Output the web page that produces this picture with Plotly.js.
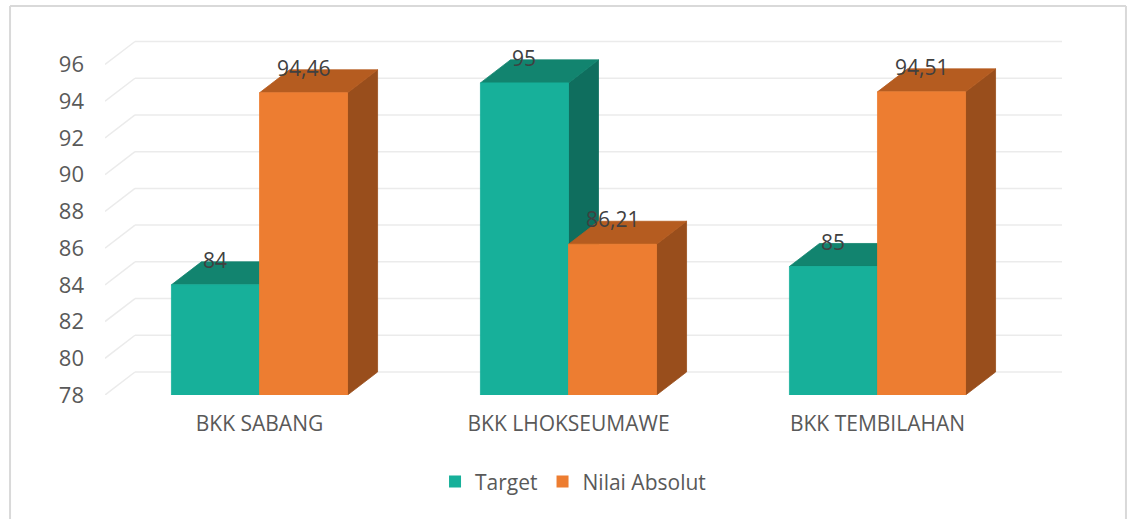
<!DOCTYPE html>
<html>
<head>
<meta charset="utf-8">
<script src="https://cdn.plot.ly/plotly-3.0.1.min.js"></script>
<style>html,body{margin:0;padding:0;background:#fff;}#chart{width:1128px;height:519px;}</style>
</head>
<body>
<div id="chart"></div>
<script>
// ---- data ----
const categories = ['BKK SABANG', 'BKK LHOKSEUMAWE', 'BKK TEMBILAHAN'];
const seriesNames = ['Target', 'Nilai Absolut'];
const target = [84, 95, 85];
const nilaiAbsolut = [94.46, 86.21, 94.51];
const targetLabels = ['84', '95', '85'];
const nilaiLabels = ['94,46', '86,21', '94,51'];
const yTickVals = [78, 80, 82, 84, 86, 88, 90, 92, 94, 96];

// ---- styling / 3D geometry ----
const FONT = '"Open Sans", "Noto Sans", sans-serif';
const BASE = 78;
const BAR_W = 0.285;      // bar width in category units
const DX = 0.0971;        // depth offset (x, category units)
const DY = 1.253;         // depth offset (y, value units)
const LABEL_UP = 1.36;
const colors = {
  Target: {front: '#17B09A', top: '#12846F', side: '#0F6E5E'},
  'Nilai Absolut': {front: '#ED7D31', top: '#B55C20', side: '#994E1C'}
};

function poly(xs, ys, color) {
  return {
    type: 'scatter', mode: 'lines', x: xs.concat([xs[0]]), y: ys.concat([ys[0]]),
    fill: 'toself', fillcolor: color, line: {color: color, width: 0.8},
    hoverinfo: 'skip', showlegend: false
  };
}

const traces = [];
const annotations = [];
const seriesVals = [target, nilaiAbsolut];
const seriesLbls = [targetLabels, nilaiLabels];
seriesVals.forEach((vals, s) => {
  const name = seriesNames[s];
  const c = colors[name];
  vals.forEach((v, i) => {
    const x0 = s === 0 ? i - BAR_W : i;
    const x1 = x0 + BAR_W;
    // side face
    traces.push(poly([x1, x1 + DX, x1 + DX, x1], [BASE, BASE + DY, v + DY, v], c.side));
    // top face
    traces.push(poly([x0, x1, x1 + DX, x0 + DX], [v, v, v + DY, v + DY], c.top));
    // front face
    traces.push(poly([x0, x1, x1, x0], [BASE, BASE, v, v], c.front));
    annotations.push({
      x: x0 + BAR_W / 2, y: v + LABEL_UP, xref: 'x', yref: 'y',
      text: seriesLbls[s][i], showarrow: false, yanchor: 'middle', xanchor: 'center',
      font: {family: FONT, size: 21, color: '#404040'}
    });
  });
});
// legend entries
seriesNames.forEach(name => {
  traces.push({type: 'bar', name: name, x: [0], y: [null],
    marker: {color: colors[name].front}, hoverinfo: 'skip'});
});

// back-wall gridlines
const shapes = [];
yTickVals.forEach(v => {
  shapes.push({type: 'line', layer: 'below', xref: 'x', yref: 'y',
    x0: -0.5, y0: v, x1: -0.5 + DX, y1: v + DY, line: {color: '#EBEBEB', width: 1.5}});
  shapes.push({type: 'line', layer: 'below', xref: 'x', yref: 'y',
    x0: -0.5 + DX, y0: v + DY, x1: 2.5 + DX, y1: v + DY, line: {color: '#EBEBEB', width: 1.5}});
});
// chart frame
const frame = {color: '#D9D9D9', width: 2};
shapes.push({type: 'line', xref: 'paper', yref: 'paper', x0: -0.0984, x1: -0.0984, y0: 1.066, y1: -0.36, line: frame});
shapes.push({type: 'line', xref: 'paper', yref: 'paper', x0: 1.058, x1: 1.058, y0: 1.066, y1: -0.36, line: frame});
shapes.push({type: 'line', xref: 'paper', yref: 'paper', x0: -0.0984, x1: 1.058, y0: 1.066, y1: 1.066, line: frame});

const layout = {
  width: 1128, height: 519,
  margin: {l: 105, r: 58, t: 30, b: 124},
  paper_bgcolor: '#FFFFFF', plot_bgcolor: 'rgba(0,0,0,0)',
  font: {family: FONT, size: 20, color: '#595959'},
  showlegend: true,
  legend: {orientation: 'h', x: 0.342, xanchor: 'left', y: -0.238, yanchor: 'middle',
    font: {family: FONT, size: 21, color: '#595959'}, bgcolor: 'rgba(0,0,0,0)'},
  xaxis: {range: [-0.5, 2.623], tickmode: 'array', tickvals: [0, 1, 2], ticktext: categories,
    showgrid: false, zeroline: false, showline: false, ticks: '', fixedrange: true,
    ticklabelstandoff: 14, tickfont: {family: FONT, size: 21, color: '#595959'}},
  yaxis: {range: [78, 97.88], tickmode: 'array', tickvals: yTickVals,
    showgrid: false, zeroline: false, showline: false, ticks: '', fixedrange: true,
    ticklabelstandoff: 20, tickfont: {family: FONT, size: 22, color: '#595959'}},
  shapes: shapes,
  annotations: annotations,
  barmode: 'group'
};

Plotly.newPlot('chart', traces, layout, {displayModeBar: false, staticPlot: true});
</script>
</body>
</html>
